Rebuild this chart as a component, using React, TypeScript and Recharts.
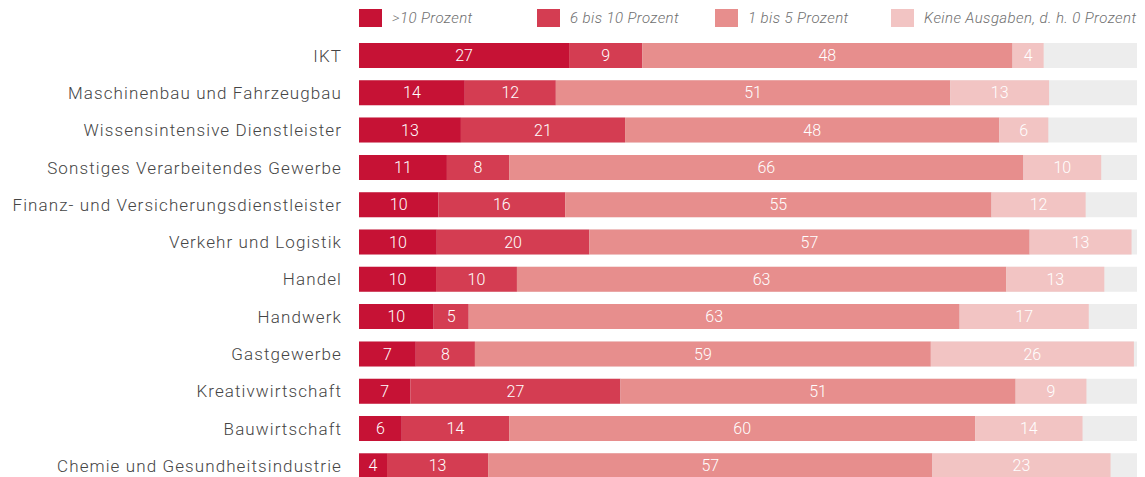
import React from "react";
import { BarChart, Bar, XAxis, YAxis, LabelList } from "recharts";

const categories = [
  "IKT",
  "Maschinenbau und Fahrzeugbau",
  "Wissensintensive Dienstleister",
  "Sonstiges Verarbeitendes Gewerbe",
  "Finanz- und Versicherungsdienstleister",
  "Verkehr und Logistik",
  "Handel",
  "Handwerk",
  "Gastgewerbe",
  "Kreativwirtschaft",
  "Bauwirtschaft",
  "Chemie und Gesundheitsindustrie",
];
const over10 = [27.0, 13.6, 13.1, 11.3, 10.2, 10.0, 9.9, 9.6, 7.3, 6.6, 5.5, 3.6];
const from6to10 = [9.4, 11.7, 21.1, 8.0, 16.3, 19.6, 10.4, 4.5, 7.6, 27.0, 13.8, 13.0];
const from1to5 = [47.6, 50.7, 48.1, 66.1, 54.8, 56.6, 62.9, 63.1, 58.6, 50.8, 59.9, 57.1];
const none = [4.0, 12.7, 6.3, 10.0, 12.1, 13.1, 12.6, 16.6, 26.1, 9.1, 13.8, 22.9];

const seriesNames = [">10 Prozent", "6 bis 10 Prozent", "1 bis 5 Prozent", "Keine Ausgaben, d. h. 0 Prozent"];
const seriesKeys = ["a", "b", "c", "d"];
const colors = ["#c61235", "#d43d52", "#e78e8d", "#f2c4c3"];

const data = categories.map((name, i) => ({
  name,
  a: over10[i],
  b: from6to10[i],
  c: from1to5[i],
  d: none[i],
}));

const FONT = "Roboto, 'Liberation Sans', sans-serif";

const YTick = (props: any) => {
  const { x, y, payload } = props;
  return (
    <text
      x={x}
      y={y}
      dy={6}
      textAnchor="end"
      fill="#454545"
      fontSize={17}
      fontFamily={FONT}
      fontWeight={300}
      letterSpacing={1.1}
    >
      {payload.value}
    </text>
  );
};

const legendX = [359, 537, 715, 891];

export default function App() {
  return (
    <div style={{ position: "absolute", left: 0, top: 0, width: 1145, height: 477, overflow: "hidden", background: "#fff" }}>
      <div style={{ position: "absolute", left: 0, top: 0 }}>
        <BarChart
          width={1145}
          height={490}
          data={data}
          layout="vertical"
          margin={{ top: 37, right: 8, bottom: 5.4, left: 0 }}
          barSize={25}
        >
          <XAxis type="number" domain={[0, 100]} hide />
          <YAxis
            type="category"
            dataKey="name"
            width={359}
            axisLine={false}
            tickLine={false}
            tick={<YTick />}
            tickMargin={11}
            interval={0}
          />
          {seriesKeys.map((k, i) => (
            <Bar
              key={k}
              dataKey={k}
              name={seriesNames[i]}
              stackId="s"
              fill={colors[i]}
              isAnimationActive={false}
              background={i === 0 ? { fill: "#ededed" } : undefined}
            >
              <LabelList
                dataKey={k}
                position="center"
                fill="#ffffff"
                fontSize={16}
                fontFamily={FONT}
                fontWeight={300}
                formatter={(v: any) => Math.round(Number(v))}
              />
            </Bar>
          ))}
        </BarChart>
      </div>
      {seriesNames.map((n, i) => (
        <div
          key={n}
          style={{
            position: "absolute",
            left: legendX[i],
            top: 9,
            display: "flex",
            alignItems: "center",
            fontFamily: FONT,
            fontStyle: "italic",
            fontWeight: 300,
            fontSize: 15,
            letterSpacing: 0.4,
            color: "#6f6f6f",
            whiteSpace: "nowrap",
          }}
        >
          <span style={{ display: "inline-block", width: 23, height: 18, background: colors[i], marginRight: 10 }} />
          <span>{n}</span>
        </div>
      ))}
    </div>
  );
}
